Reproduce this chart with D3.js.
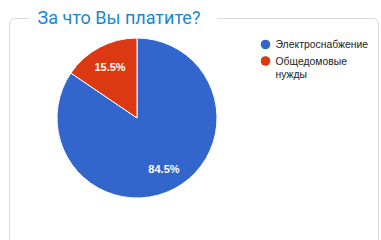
<!DOCTYPE html>
<html>
<head>
<meta charset="utf-8">
<script src="https://cdn.jsdelivr.net/npm/d3@7"></script>
<style>
  body { margin: 0; background: #fff; }
  svg { display: block; }
</style>
</head>
<body>
<svg id="chart" width="381" height="240"></svg>
<script>
// Chart data
const categories = ['Электроснабжение', 'Общедомовые нужды'];
const values = [84.5, 15.5];
const colors = ['#3366cc', '#dc3912'];
const legendLines = [['Электроснабжение'], ['Общедомовые', 'нужды']];
const title = 'За что Вы платите?';

const svg = d3.select('#chart');

// Frame with a gap for the title
const fx = 9.5, fy = 18.5, fw = 369, fh = 240, rr = 6;
const gapStart = 29, gapEnd = 217;
svg.append('path')
    .attr('d', `M${gapStart},${fy} L${fx + rr},${fy} Q${fx},${fy} ${fx},${fy + rr} L${fx},${fy + fh}` +
        ` M${gapEnd},${fy} L${fx + fw - rr},${fy} Q${fx + fw},${fy} ${fx + fw},${fy + rr} L${fx + fw},${fy + fh}`)
    .attr('fill', 'none')
    .attr('stroke', '#dadada')
    .attr('stroke-width', 1);

svg.append('text')
    .attr('x', 37.5)
    .attr('y', 23.5)
    .attr('font-family', 'Roboto, Arial, sans-serif')
    .attr('font-size', '18px')
    .attr('fill', '#1a87cf')
    .text(title);

// Pie
const cx = 137, cy = 118, radius = 80;
const pie = d3.pie().sort(null).value(d => d)(values);
const arc = d3.arc().innerRadius(0).outerRadius(radius);
const labelArc = d3.arc().innerRadius(radius * 0.72).outerRadius(radius * 0.72);

const g = svg.append('g').attr('transform', `translate(${cx},${cy})`);
g.selectAll('path.slice')
    .data(pie)
    .enter()
    .append('path')
    .attr('class', 'slice')
    .attr('d', arc)
    .attr('fill', (d, i) => colors[i])
    .attr('stroke', '#fff')
    .attr('stroke-width', 1);

g.selectAll('text.lbl')
    .data(pie)
    .enter()
    .append('text')
    .attr('class', 'lbl')
    .attr('transform', d => `translate(${labelArc.centroid(d)})`)
    .attr('dy', '0.35em')
    .attr('text-anchor', 'middle')
    .attr('font-family', 'Arial, "Liberation Sans", sans-serif')
    .attr('font-size', '11px')
    .attr('font-weight', 'bold')
    .attr('fill', '#fff')
    .text(d => d.data.toFixed(1) + '%');

// Legend
const legend = svg.append('g').attr('transform', 'translate(265.5,44.5)');
const rowY = [0, 16.5];
categories.forEach((c, i) => {
    const row = legend.append('g').attr('transform', `translate(0,${rowY[i]})`);
    row.append('circle')
        .attr('r', 4.8)
        .attr('fill', colors[i]);
    const t = row.append('text')
        .attr('x', 10)
        .attr('y', 3.5)
        .attr('font-family', 'Arial, "Liberation Sans", sans-serif')
        .attr('font-size', '10.4px')
        .attr('fill', '#222');
    legendLines[i].forEach((line, j) => {
        t.append('tspan').attr('x', 10).attr('dy', j === 0 ? 0 : 13.5).text(line);
    });
});
</script>
</body>
</html>
